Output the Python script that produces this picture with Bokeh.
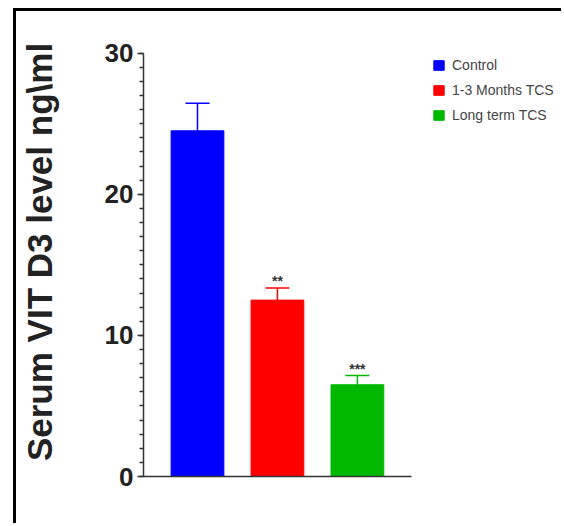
from bokeh.plotting import figure
from bokeh.models import (ColumnDataSource, Range1d, SingleIntervalTicker, Whisker,
                          TeeHead, Legend, LegendItem)
from bokeh.core.properties import value
from bokeh.embed import file_html
from bokeh.resources import INLINE

# Serum vitamin D3 by treatment group (mean and SEM, ng/ml)
groups = ["Control", "1-3 Months TCS", "Long term TCS"]
means = [24.5, 12.5, 6.5]
sems = [1.95, 0.85, 0.65]
stars = ["", "**", "***"]
colors = ["#0000FF", "#FF0000", "#00B800"]
positions = [1, 2, 3]

src = ColumnDataSource(dict(
    x=positions,
    group=groups,
    mean=means,
    upper=[m + s for m, s in zip(means, sems)],
    star=stars,
    color=colors,
))

FONT = "Liberation Sans"
INK = "#222222"

# the page frame is drawn with CSS borders; the canvas starts just inside it
OX, OY = 16, 11

# data area runs past the drawn axes: top headroom keeps the y label centred,
# the right side leaves room for the legend
p = figure(width=564 - OX, height=526 - OY, output_backend="svg", toolbar_location=None,
           x_range=Range1d(0.325, 5.59), y_range=Range1d(0, 31.82),
           min_border_left=127, min_border_right=0,
           min_border_top=16, min_border_bottom=50)
p.styles = {"margin-left": "13px", "margin-top": "8px",
            "border-left": "3px solid #000", "border-top": "3px solid #000"}
p.outline_line_color = None
p.grid.visible = False
p.background_fill_color = "white"
p.border_fill_color = "white"

bars = p.vbar(x="x", top="mean", width=0.66, bottom=0, source=src,
              fill_color="color", line_color="color", line_width=1)

# error bars (upper half only)
err = Whisker(source=src, base="x", lower="mean", upper="upper", dimension="height",
              line_color="color", line_width=1.5,
              upper_head=TeeHead(size=24, line_color="color", line_width=1.5),
              lower_head=None)
p.add_layout(err)

# significance markers
p.text(x="x", y="upper", text="star", source=src, text_align="center",
       text_baseline="bottom", y_offset=1, text_font=value(FONT),
       text_font_size="14px", text_font_style="bold", text_color="#333333")

# y axis
yax = p.yaxis[0]
yax.bounds = (0, 30)
yax.ticker = SingleIntervalTicker(interval=10, num_minor_ticks=10)
yax.axis_label = "Serum VIT D3 level ng\\ml"
yax.axis_label_text_font = FONT
yax.axis_label_text_font_style = "bold"
yax.axis_label_text_font_size = "35px"
yax.axis_label_text_color = INK
yax.axis_label_standoff = 43
yax.major_label_text_font = FONT
yax.major_label_text_font_style = "bold"
yax.major_label_text_font_size = "26px"
yax.major_label_text_color = INK
yax.major_label_standoff = 4
yax.axis_line_color = "#333333"
yax.axis_line_width = 1.5
yax.major_tick_line_color = "#333333"
yax.major_tick_line_width = 1.5
yax.major_tick_out = 6
yax.major_tick_in = 0
yax.minor_tick_line_color = "#333333"
yax.minor_tick_line_width = 1.5
yax.minor_tick_out = 4
yax.minor_tick_in = 0

# x axis: bare baseline under the bars
xax = p.xaxis[0]
xax.bounds = (0.325, 3.68)
xax.ticker = []
xax.major_tick_out = 0
xax.major_tick_in = 0
xax.minor_tick_out = 0
xax.major_label_text_font_size = "0px"
xax.axis_line_color = "#333333"
xax.axis_line_width = 1.5

# legend
items = [LegendItem(label=g, renderers=[bars], index=i) for i, g in enumerate(groups)]
legend = Legend(items=items, location=(289, 353), padding=0, margin=0,
                glyph_width=13, glyph_height=12, label_height=12, spacing=9,
                label_standoff=7, label_text_font=FONT, label_text_font_size="14px",
                label_text_color="#444444", border_line_color=None,
                background_fill_alpha=0)
p.add_layout(legend, "center")

open("out.html", "w").write(file_html(p, INLINE))
